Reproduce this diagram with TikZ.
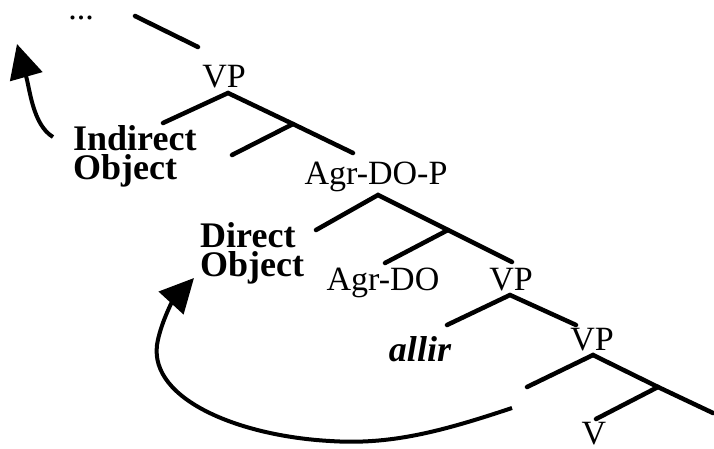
\documentclass[tikz,border=0pt]{standalone}
\usepackage{fontspec}
\setmainfont{Liberation Serif}
\usetikzlibrary{arrows.meta}
\begin{document}
\begin{tikzpicture}[x=1pt,y=-1pt,
  branch/.style={line width=4.5pt, line cap=round},
  lbl/.style={font=\fontsize{34}{34}\selectfont, inner sep=0pt, anchor=base},
  blbl/.style={font=\fontsize{36}{29}\selectfont\bfseries, inner sep=0pt, anchor=north west, align=left},
  move/.style={line width=4pt, -{Triangle[length=34pt,width=33pt]}}]
\useasboundingbox (0,0) rectangle (714,449);
% top fragment
\node[lbl] (dots) at (81,20) {...};
\coordinate (t1) at (135,16);
\coordinate (t2) at (198,47);
\draw[branch] (t1) -- (t2);
% VP 1
\node[lbl] (vp1) at (224,88) {VP};
\coordinate (vp1a) at (228,93);
\coordinate (io) at (163,123);
\coordinate (b1) at (293,124);
\coordinate (b1l) at (232,155);
\coordinate (b1r) at (353,153);
\draw[branch] (io) -- (vp1a) -- (b1) -- (b1r);
\draw[branch] (b1) -- (b1l);
\node[blbl] (iobj) at (73,125) {Indirect\\Object};
% Agr-DO-P
\node[lbl] (agrp) at (376,185) {Agr-DO-P};
\coordinate (agrpa) at (378,195);
\coordinate (do) at (316,230);
\coordinate (b2) at (448,230);
\coordinate (b2l) at (385,263);
\coordinate (b2r) at (512,262);
\draw[branch] (do) -- (agrpa) -- (b2) -- (b2r);
\draw[branch] (b2) -- (b2l);
\node[blbl] (dobj) at (200,222) {Direct\\Object};
\node[lbl] (agr) at (383,290) {Agr-DO};
% VP 2
\node[lbl] (vp2) at (511,290) {VP};
\coordinate (vp2a) at (510,295);
\coordinate (vp2l) at (447,325);
\coordinate (vp2r) at (576,325);
\draw[branch] (vp2l) -- (vp2a) -- (vp2r);
\node[lbl, font=\fontsize{36}{36}\selectfont\bfseries\itshape] (allir) at (420,361) {allir};
% VP 3
\node[lbl] (vp3) at (592,350) {VP};
\coordinate (vp3a) at (593,355);
\coordinate (vp3l) at (527,387);
\coordinate (b3) at (658,387);
\coordinate (b3r) at (713,413);
\coordinate (b3l) at (596,419);
\draw[branch] (vp3l) -- (vp3a) -- (b3) -- (b3r);
\draw[branch] (b3) -- (b3l);
\node[lbl] (v) at (594,444) {V};
% movement arrows
\coordinate (ioS) at (53,137);
\coordinate (ioT) at (17,44);
\draw[move] (ioS) .. controls (33,125) and (30,90) .. (ioT);
\coordinate (doS) at (512,408);
\coordinate (doM) at (330,441);
\coordinate (doL) at (157,345);
\coordinate (doT) at (194,278);
\draw[move] (doS) .. controls (440,432) and (390,445) .. (doM)
  .. controls (240,436) and (150,400) .. (doL)
  .. controls (160,325) and (172,302) .. (doT);
\end{tikzpicture}
\end{document}
